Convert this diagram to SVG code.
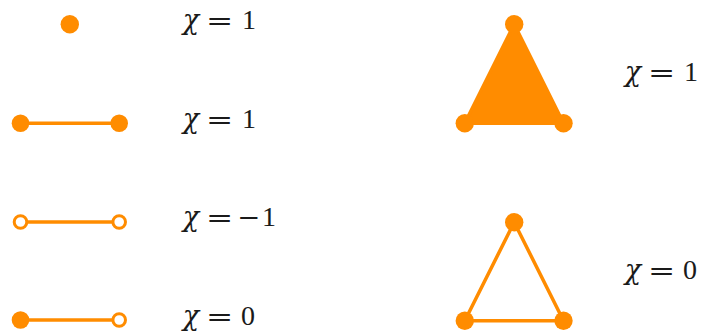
<svg xmlns="http://www.w3.org/2000/svg" width="701" height="331" viewBox="0 0 701 331">
<style>
.dot{fill:#ff8c00;stroke:none}
.odot{fill:#fff;stroke:#ff8c00;stroke-width:3}
.edge{stroke:#ff8c00;stroke-width:3.5;fill:none}
.tri{fill:#ff8c00;stroke:#ff8c00;stroke-width:3.5;stroke-linejoin:round}
text{fill:#1a1a1a;text-anchor:middle}
.chi{font-family:"DejaVu Serif","Liberation Serif",serif;font-style:italic;font-size:27px}
.eq{font-family:"DejaVu Serif","Liberation Serif",serif;font-size:25px}
.num{font-family:"Liberation Serif",serif;font-size:28px}
</style>
<rect width="701" height="331" fill="#fff"/>
<g id="connectors">
<line class="edge" x1="20.5" y1="123.3" x2="119.2" y2="123.3"/>
<line class="edge" x1="20.5" y1="222" x2="119.2" y2="222"/>
<line class="edge" x1="20.5" y1="320" x2="119.2" y2="320"/>
<polygon class="tri" points="514.2,24.2 464.8,123.3 563.5,123.3"/>
<polygon class="edge" points="514.2,222.2 464.8,320.8 563.5,320.8" style="stroke-linejoin:round"/>
</g>
<g id="vertex-point"><circle class="dot" cx="69.8" cy="24.2" r="9.2"/></g>
<g id="edge-closed"><circle class="dot" cx="20.5" cy="123.3" r="8.8"/><circle class="dot" cx="119.2" cy="123.3" r="8.8"/></g>
<g id="edge-open"><circle class="odot" cx="20.5" cy="222" r="6.3"/><circle class="odot" cx="119.2" cy="222" r="6.3"/></g>
<g id="edge-halfopen"><circle class="dot" cx="20.5" cy="320" r="8.8"/><circle class="odot" cx="119.2" cy="320" r="6.3"/></g>
<g id="triangle-filled"><circle class="dot" cx="514.2" cy="24.2" r="9.2"/><circle class="dot" cx="464.8" cy="123.3" r="9.2"/><circle class="dot" cx="563.5" cy="123.3" r="9.2"/></g>
<g id="triangle-hollow"><circle class="dot" cx="514.2" cy="222.2" r="9.2"/><circle class="dot" cx="464.8" cy="320.8" r="9.2"/><circle class="dot" cx="563.5" cy="320.8" r="9.2"/></g>
<g id="labels">
<text class="chi" x="191" y="29">χ</text><text class="eq" transform="translate(219.5,29) scale(1.3,1)">=</text><text class="num" x="249" y="29">1</text>
<text class="chi" x="191" y="128">χ</text><text class="eq" transform="translate(219.5,128) scale(1.3,1)">=</text><text class="num" x="249" y="128">1</text>
<text class="chi" x="191" y="226">χ</text><text class="eq" transform="translate(219.5,226) scale(1.3,1)">=</text><text class="eq" transform="translate(249,226) scale(1.1,1)">−</text><text class="num" x="269" y="226">1</text>
<text class="chi" x="191" y="325">χ</text><text class="eq" transform="translate(219.5,325) scale(1.3,1)">=</text><text class="num" x="248" y="325">0</text>
<text class="chi" x="633" y="81">χ</text><text class="eq" transform="translate(661.5,81) scale(1.3,1)">=</text><text class="num" x="691" y="81">1</text>
<text class="chi" x="633" y="279">χ</text><text class="eq" transform="translate(661.5,279) scale(1.3,1)">=</text><text class="num" x="690" y="279">0</text>
</g>
</svg>
